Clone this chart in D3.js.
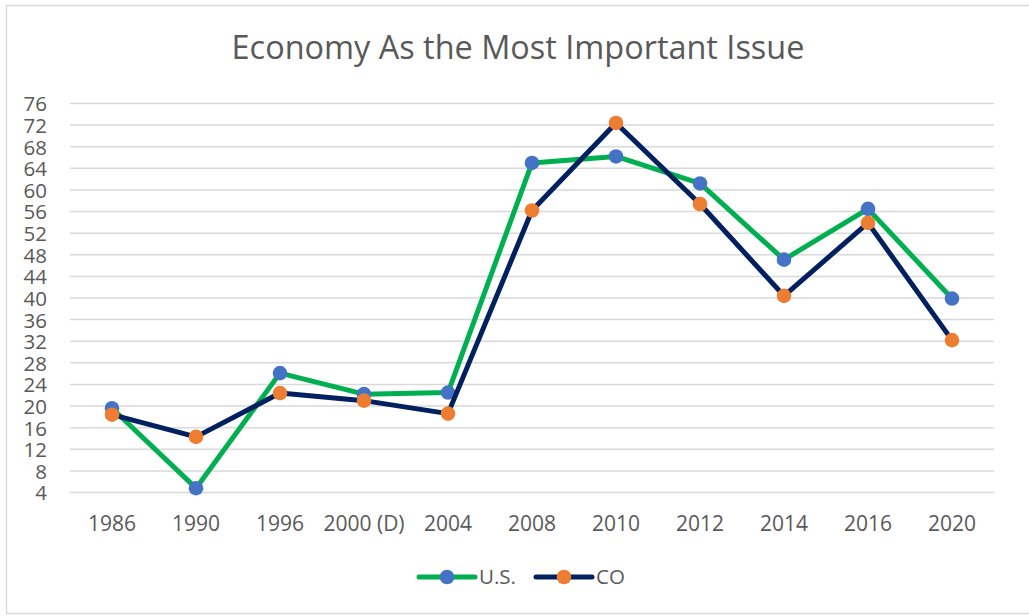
<!DOCTYPE html>
<html>
<head>
<meta charset="utf-8">
<script src="https://cdn.jsdelivr.net/npm/d3@7"></script>
<style>
  body { margin: 0; background: #ffffff; }
  text { font-family: "Open Sans", sans-serif; fill: #595959; }
</style>
</head>
<body>
<div id="chart"></div>
<script>
var years = ["1986", "1990", "1996", "2000 (D)", "2004", "2008", "2010", "2012", "2014", "2016", "2020"];
var usValues = [19.6, 4.8, 26.1, 22.2, 22.5, 65, 66.2, 61.2, 47.1, 56.5, 39.9];
var coValues = [18.4, 14.3, 22.4, 21.0, 18.6, 56.2, 72.4, 57.4, 40.4, 53.9, 32.2];
var yTicks = [4, 8, 12, 16, 20, 24, 28, 32, 36, 40, 44, 48, 52, 56, 60, 64, 68, 72, 76];
var seriesNames = ["U.S.", "CO"];

var width = 1029, height = 616;
var plotLeft = 70, plotRight = 994, plotTop = 103.5, plotBottom = 492.5;

var svg = d3.select("#chart")
  .append("svg")
  .attr("width", width)
  .attr("height", height);

// chart border
svg.append("rect")
  .attr("x", 6.5)
  .attr("y", 5.5)
  .attr("width", width + 10)
  .attr("height", 608)
  .attr("fill", "#ffffff")
  .attr("stroke", "#d9d9d9")
  .attr("stroke-width", 1.5);

var title = svg.append("text")
  .attr("x", 518)
  .attr("y", 50)
  .attr("text-anchor", "middle")
  .attr("dominant-baseline", "middle")
  .attr("font-size", 28)
  .text("Economy As the Most Important Issue");
// squeeze title to the width in the reference
var tw = title.node().getComputedTextLength();
title.attr("font-size", 28 * 573 / tw);

var x = d3.scaleBand().domain(years).range([plotLeft, plotRight]);
var y = d3.scaleLinear().domain([4, 76]).range([plotBottom, plotTop]);

// gridlines
svg.append("g")
  .selectAll("line")
  .data(yTicks)
  .enter()
  .append("line")
  .attr("x1", plotLeft)
  .attr("x2", plotRight)
  .attr("y1", function(d) { return y(d); })
  .attr("y2", function(d) { return y(d); })
  .attr("stroke", "#d9d9d9")
  .attr("stroke-width", 1.5);

var yAxis = svg.append("g")
  .attr("transform", "translate(" + 47 + ",0)")
  .call(d3.axisLeft(y).tickValues(yTicks).tickSize(0).tickPadding(0));
yAxis.select(".domain").remove();
yAxis.selectAll("text")
  .attr("font-size", 20.5)
  .attr("font-family", "Open Sans, sans-serif")
  .attr("fill", "#595959")
  .attr("dy", "0.36em");

var xAxis = svg.append("g")
  .attr("transform", "translate(0," + 523 + ")")
  .call(d3.axisBottom(x).tickSize(0).tickPadding(0));
xAxis.select(".domain").remove();
xAxis.selectAll("text")
  .attr("font-size", 21)
  .attr("font-family", "Open Sans, sans-serif")
  .attr("fill", "#595959")
  .attr("dy", "0.36em");

var line = d3.line()
  .x(function(d, i) { return x(years[i]) + x.bandwidth() / 2; })
  .y(function(d) { return y(d); });

function drawSeries(values, lineColor, dotColor) {
  svg.append("path")
    .datum(values)
    .attr("d", line)
    .attr("fill", "none")
    .attr("stroke", lineColor)
    .attr("stroke-width", 5)
    .attr("stroke-linejoin", "round")
    .attr("stroke-linecap", "round");

  svg.append("g")
    .selectAll("circle")
    .data(values)
    .enter()
    .append("circle")
    .attr("cx", function(d, i) { return x(years[i]) + x.bandwidth() / 2; })
    .attr("cy", function(d) { return y(d); })
    .attr("r", 7.3)
    .attr("fill", dotColor);
}

drawSeries(usValues, "#00b050", "#4472c4");
drawSeries(coValues, "#002060", "#ed7d31");

// legend
var legendItems = [
  {name: seriesNames[0], line: "#00b050", dot: "#4472c4", x: 419},
  {name: seriesNames[1], line: "#002060", dot: "#ed7d31", x: 536}
];
var legend = svg.append("g").attr("transform", "translate(0," + 577 + ")");
legendItems.forEach(function(item) {
  legend.append("line")
    .attr("x1", item.x)
    .attr("x2", item.x + 56)
    .attr("y1", 0)
    .attr("y2", 0)
    .attr("stroke", item.line)
    .attr("stroke-width", 5)
    .attr("stroke-linecap", "round");
  legend.append("circle")
    .attr("cx", item.x + 28)
    .attr("cy", 0)
    .attr("r", 7.3)
    .attr("fill", item.dot);
  legend.append("text")
    .attr("x", item.x + 60)
    .attr("y", 0)
    .attr("dy", "0.36em")
    .attr("font-size", 20.5)
    .text(item.name);
});
</script>
</body>
</html>
